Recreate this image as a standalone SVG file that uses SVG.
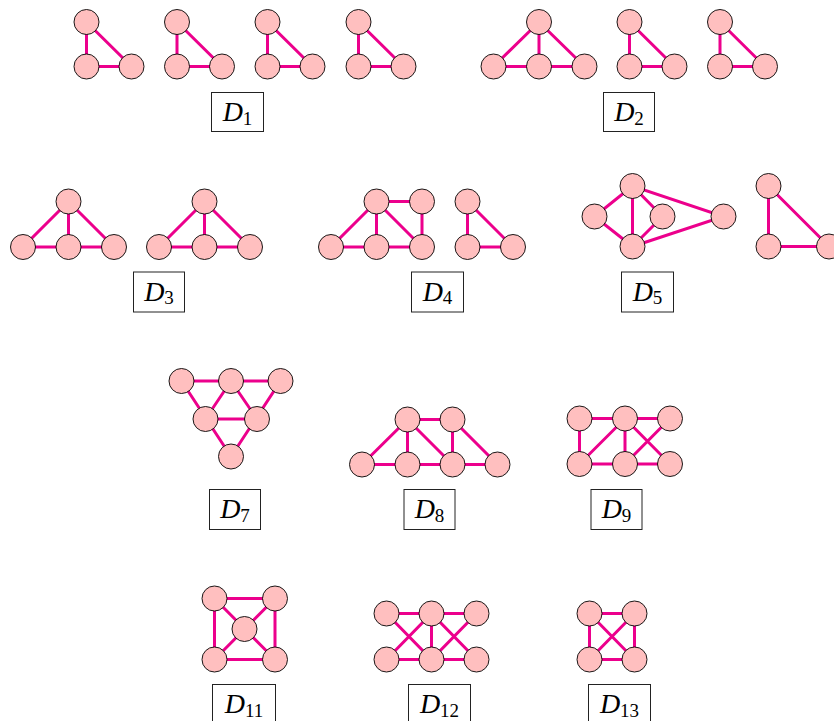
<svg xmlns="http://www.w3.org/2000/svg" width="834" height="721" viewBox="0 0 834 721">
<style>
.e{stroke:#ec008c;stroke-width:3;stroke-linecap:butt;fill:none}
.n{fill:#ffbfbf;stroke:#000;stroke-width:0.9}
.b{fill:#fff;stroke:#222;stroke-width:1}
.t{font-family:"Liberation Serif",serif;font-size:28px;font-style:italic;text-anchor:middle;fill:#000}
.s{font-style:normal;font-size:19px}
</style>
<rect width="834" height="721" fill="#fff"/>
<g id="connectors">
<path class="e" d="M86.5 22V66.5H131.5L86.5 22"/>
<path class="e" d="M177 22V66.5H222L177 22"/>
<path class="e" d="M267.5 22V66.5H312.5L267.5 22"/>
<path class="e" d="M358.5 22V66.5H403.5L358.5 22"/>
<path class="e" d="M539 22L493.5 66.5H584.5L539 22V66.5"/>
<path class="e" d="M629.5 22V66.5H674.5L629.5 22"/>
<path class="e" d="M720 22V66.5H765L720 22"/>
<path class="e" d="M68.5 201.5L23 247H114L68.5 201.5V247"/>
<path class="e" d="M204.5 201.5L159 247H250L204.5 201.5V247"/>
<path class="e" d="M376.5 201.5L331 247H422V201.5H376.5V247M376.5 201.5L422 247"/>
<path class="e" d="M467.5 201.5V247H513L467.5 201.5"/>
<path class="e" d="M632.5 186L594.5 216.5L632.5 246.5L723.5 216.5L632.5 186V246.5L662.5 216.5L632.5 186"/>
<path class="e" d="M768.5 186V246.5H829L768.5 186"/>
<path class="e" d="M181.5 381H280.5L231 456.5L181.5 381M205.5 419H257M231 381L205.5 419M231 381L257 419"/>
<path class="e" d="M362 464.5H497.5L452.5 419.5H407.5L362 464.5M407.5 419.5V464.5M407.5 419.5L452.5 464.5M452.5 419.5V464.5"/>
<path class="e" d="M579.5 418.5H670M579.5 464H670M579.5 418.5V464L625 418.5V464M625 418.5L670 464M625 464L670 418.5"/>
<path class="e" d="M214.5 598.5H275V659.5H214.5Z M214.5 598.5L275 659.5M275 598.5L214.5 659.5"/>
<path class="e" d="M386.5 613.5H476.5M386.5 659.5H476.5M386.5 613.5L431.5 659.5L476.5 613.5M386.5 659.5L431.5 613.5L476.5 659.5M431.5 613.5V659.5"/>
<path class="e" d="M589.5 613.5H634.5V659.5H589.5Z M589.5 613.5L634.5 659.5M634.5 613.5L589.5 659.5"/>
</g>
<g id="nodes">
<g id="d1a-1"><circle class="n" cx="86.5" cy="22" r="12.5"/></g>
<g id="d1a-2"><circle class="n" cx="86.5" cy="66.5" r="12.5"/></g>
<g id="d1a-3"><circle class="n" cx="131.5" cy="66.5" r="12.5"/></g>
<g id="d1b-1"><circle class="n" cx="177" cy="22" r="12.5"/></g>
<g id="d1b-2"><circle class="n" cx="177" cy="66.5" r="12.5"/></g>
<g id="d1b-3"><circle class="n" cx="222" cy="66.5" r="12.5"/></g>
<g id="d1c-1"><circle class="n" cx="267.5" cy="22" r="12.5"/></g>
<g id="d1c-2"><circle class="n" cx="267.5" cy="66.5" r="12.5"/></g>
<g id="d1c-3"><circle class="n" cx="312.5" cy="66.5" r="12.5"/></g>
<g id="d1d-1"><circle class="n" cx="358.5" cy="22" r="12.5"/></g>
<g id="d1d-2"><circle class="n" cx="358.5" cy="66.5" r="12.5"/></g>
<g id="d1d-3"><circle class="n" cx="403.5" cy="66.5" r="12.5"/></g>
<g id="d2a-1"><circle class="n" cx="539" cy="22" r="12.5"/></g>
<g id="d2a-2"><circle class="n" cx="493.5" cy="66.5" r="12.5"/></g>
<g id="d2a-3"><circle class="n" cx="539" cy="66.5" r="12.5"/></g>
<g id="d2a-4"><circle class="n" cx="584.5" cy="66.5" r="12.5"/></g>
<g id="d2b-1"><circle class="n" cx="629.5" cy="22" r="12.5"/></g>
<g id="d2b-2"><circle class="n" cx="629.5" cy="66.5" r="12.5"/></g>
<g id="d2b-3"><circle class="n" cx="674.5" cy="66.5" r="12.5"/></g>
<g id="d2c-1"><circle class="n" cx="720" cy="22" r="12.5"/></g>
<g id="d2c-2"><circle class="n" cx="720" cy="66.5" r="12.5"/></g>
<g id="d2c-3"><circle class="n" cx="765" cy="66.5" r="12.5"/></g>
<g id="d3a-1"><circle class="n" cx="68.5" cy="201.5" r="12.5"/></g>
<g id="d3a-2"><circle class="n" cx="23" cy="247" r="12.5"/></g>
<g id="d3a-3"><circle class="n" cx="68.5" cy="247" r="12.5"/></g>
<g id="d3a-4"><circle class="n" cx="114" cy="247" r="12.5"/></g>
<g id="d3b-1"><circle class="n" cx="204.5" cy="201.5" r="12.5"/></g>
<g id="d3b-2"><circle class="n" cx="159" cy="247" r="12.5"/></g>
<g id="d3b-3"><circle class="n" cx="204.5" cy="247" r="12.5"/></g>
<g id="d3b-4"><circle class="n" cx="250" cy="247" r="12.5"/></g>
<g id="d4a-1"><circle class="n" cx="376.5" cy="201.5" r="12.5"/></g>
<g id="d4a-2"><circle class="n" cx="422" cy="201.5" r="12.5"/></g>
<g id="d4a-3"><circle class="n" cx="331" cy="247" r="12.5"/></g>
<g id="d4a-4"><circle class="n" cx="376.5" cy="247" r="12.5"/></g>
<g id="d4a-5"><circle class="n" cx="422" cy="247" r="12.5"/></g>
<g id="d4b-1"><circle class="n" cx="467.5" cy="201.5" r="12.5"/></g>
<g id="d4b-2"><circle class="n" cx="467.5" cy="247" r="12.5"/></g>
<g id="d4b-3"><circle class="n" cx="513" cy="247" r="12.5"/></g>
<g id="d5a-1"><circle class="n" cx="632.5" cy="186" r="12.5"/></g>
<g id="d5a-2"><circle class="n" cx="594.5" cy="216.5" r="12.5"/></g>
<g id="d5a-3"><circle class="n" cx="662.5" cy="216.5" r="12.5"/></g>
<g id="d5a-4"><circle class="n" cx="723.5" cy="216.5" r="12.5"/></g>
<g id="d5a-5"><circle class="n" cx="632.5" cy="246.5" r="12.5"/></g>
<g id="d5b-1"><circle class="n" cx="768.5" cy="186" r="12.5"/></g>
<g id="d5b-2"><circle class="n" cx="768.5" cy="246.5" r="12.5"/></g>
<g id="d5b-3"><circle class="n" cx="829" cy="246.5" r="12.5"/></g>
<g id="d7-1"><circle class="n" cx="181.5" cy="381" r="12.5"/></g>
<g id="d7-2"><circle class="n" cx="231" cy="381" r="12.5"/></g>
<g id="d7-3"><circle class="n" cx="280.5" cy="381" r="12.5"/></g>
<g id="d7-4"><circle class="n" cx="205.5" cy="419" r="12.5"/></g>
<g id="d7-5"><circle class="n" cx="257" cy="419" r="12.5"/></g>
<g id="d7-6"><circle class="n" cx="231" cy="456.5" r="12.5"/></g>
<g id="d8-1"><circle class="n" cx="407.5" cy="419.5" r="12.5"/></g>
<g id="d8-2"><circle class="n" cx="452.5" cy="419.5" r="12.5"/></g>
<g id="d8-3"><circle class="n" cx="362" cy="464.5" r="12.5"/></g>
<g id="d8-4"><circle class="n" cx="407.5" cy="464.5" r="12.5"/></g>
<g id="d8-5"><circle class="n" cx="452.5" cy="464.5" r="12.5"/></g>
<g id="d8-6"><circle class="n" cx="497.5" cy="464.5" r="12.5"/></g>
<g id="d9-1"><circle class="n" cx="579.5" cy="418.5" r="12.5"/></g>
<g id="d9-2"><circle class="n" cx="625" cy="418.5" r="12.5"/></g>
<g id="d9-3"><circle class="n" cx="670" cy="418.5" r="12.5"/></g>
<g id="d9-4"><circle class="n" cx="579.5" cy="464" r="12.5"/></g>
<g id="d9-5"><circle class="n" cx="625" cy="464" r="12.5"/></g>
<g id="d9-6"><circle class="n" cx="670" cy="464" r="12.5"/></g>
<g id="d11-1"><circle class="n" cx="214.5" cy="598.5" r="12.5"/></g>
<g id="d11-2"><circle class="n" cx="275" cy="598.5" r="12.5"/></g>
<g id="d11-3"><circle class="n" cx="244.5" cy="629" r="12.5"/></g>
<g id="d11-4"><circle class="n" cx="214.5" cy="659.5" r="12.5"/></g>
<g id="d11-5"><circle class="n" cx="275" cy="659.5" r="12.5"/></g>
<g id="d12-1"><circle class="n" cx="386.5" cy="613.5" r="12.5"/></g>
<g id="d12-2"><circle class="n" cx="431.5" cy="613.5" r="12.5"/></g>
<g id="d12-3"><circle class="n" cx="476.5" cy="613.5" r="12.5"/></g>
<g id="d12-4"><circle class="n" cx="386.5" cy="659.5" r="12.5"/></g>
<g id="d12-5"><circle class="n" cx="431.5" cy="659.5" r="12.5"/></g>
<g id="d12-6"><circle class="n" cx="476.5" cy="659.5" r="12.5"/></g>
<g id="d13-1"><circle class="n" cx="589.5" cy="613.5" r="12.5"/></g>
<g id="d13-2"><circle class="n" cx="634.5" cy="613.5" r="12.5"/></g>
<g id="d13-3"><circle class="n" cx="589.5" cy="659.5" r="12.5"/></g>
<g id="d13-4"><circle class="n" cx="634.5" cy="659.5" r="12.5"/></g>
</g>
<g id="labels">
<g id="lab-d1"><rect class="b" x="211.5" y="92.5" width="52" height="39"/><text class="t" x="237.5" y="121">D<tspan class="s" dy="3.5">1</tspan></text></g>
<g id="lab-d2"><rect class="b" x="603.5" y="92.5" width="51" height="39"/><text class="t" x="629" y="121">D<tspan class="s" dy="3.5">2</tspan></text></g>
<g id="lab-d3"><rect class="b" x="133.5" y="272" width="51" height="40"/><text class="t" x="159" y="300.5">D<tspan class="s" dy="3.5">3</tspan></text></g>
<g id="lab-d4"><rect class="b" x="411.5" y="272" width="52" height="40"/><text class="t" x="437.5" y="300.5">D<tspan class="s" dy="3.5">4</tspan></text></g>
<g id="lab-d5"><rect class="b" x="621.5" y="272" width="52" height="40"/><text class="t" x="647.5" y="300.5">D<tspan class="s" dy="3.5">5</tspan></text></g>
<g id="lab-d7"><rect class="b" x="209.5" y="489.5" width="51" height="40"/><text class="t" x="235" y="518">D<tspan class="s" dy="3.5">7</tspan></text></g>
<g id="lab-d8"><rect class="b" x="404" y="489.5" width="51" height="40"/><text class="t" x="429.5" y="518">D<tspan class="s" dy="3.5">8</tspan></text></g>
<g id="lab-d9"><rect class="b" x="591" y="489.5" width="51" height="40"/><text class="t" x="616.5" y="518">D<tspan class="s" dy="3.5">9</tspan></text></g>
<g id="lab-d11"><rect class="b" x="212.5" y="684.5" width="63" height="40"/><text class="t" x="244" y="713">D<tspan class="s" dy="3.5">11</tspan></text></g>
<g id="lab-d12"><rect class="b" x="408.5" y="684.5" width="62" height="40"/><text class="t" x="439.5" y="713">D<tspan class="s" dy="3.5">12</tspan></text></g>
<g id="lab-d13"><rect class="b" x="588.5" y="684.5" width="62" height="40"/><text class="t" x="619.5" y="713">D<tspan class="s" dy="3.5">13</tspan></text></g>
</g>
</svg>
